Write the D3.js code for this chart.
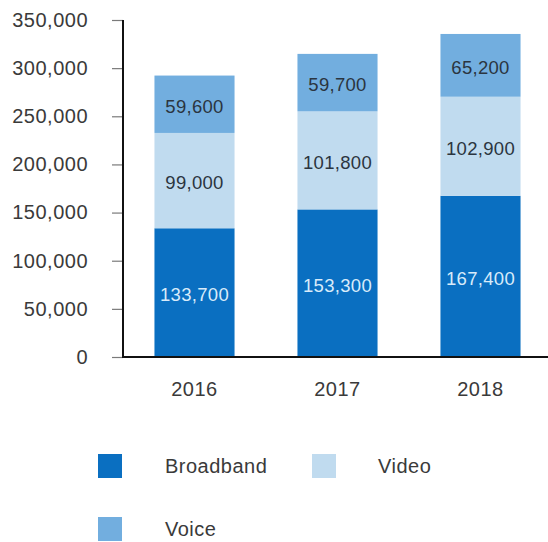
<!DOCTYPE html>
<html>
<head>
<meta charset="utf-8">
<script src="https://cdn.jsdelivr.net/npm/d3@7"></script>
<style>
  html, body { margin: 0; padding: 0; background: #fff; }
  svg { display: block; font-family: "Liberation Sans", Arial, Helvetica, sans-serif; }
</style>
</head>
<body>
<svg id="chart" width="548" height="542"></svg>
<script>
// Subscribers by service, stacked per year
const years = ["2016", "2017", "2018"];
const broadband = [133700, 153300, 167400];
const video = [99000, 101800, 102900];
const voice = [59600, 59700, 65200];
const seriesNames = ["Broadband", "Video", "Voice"];
const seriesColors = ["#0a6fc1", "#c0dbef", "#72aedf"];
const labelColors = ["#d8ebfa", "#2b3540", "#2b3540"];
const yTicks = [0, 50000, 100000, 150000, 200000, 250000, 300000, 350000];

const svg = d3.select("#chart");
const textColor = "#3a3a3a";
const fontSize = 20;
const spacing = "0.5px";

const x = d3.scaleBand().domain(years).range([123, 552])
  .paddingInner(0.44).paddingOuter(0.22);
const y = d3.scaleLinear().domain([0, 350000]).range([357, 20]);

const rows = years.map((yr, i) => ({ year: yr, Broadband: broadband[i], Video: video[i], Voice: voice[i] }));
const stacked = d3.stack().keys(seriesNames)(rows);
const fmt = d3.format(",");

// stacked bars
const layers = svg.append("g").selectAll("g").data(stacked).join("g")
  .attr("fill", (d, i) => seriesColors[i]);
layers.selectAll("rect").data(d => d).join("rect")
  .attr("x", d => x(d.data.year))
  .attr("width", x.bandwidth())
  .attr("y", d => y(d[1]))
  .attr("height", d => y(d[0]) - y(d[1]));

// value labels inside each segment
stacked.forEach((layer, li) => {
  svg.append("g").selectAll("text").data(layer).join("text")
    .attr("x", d => x(d.data.year) + x.bandwidth() / 2)
    .attr("y", d => (y(d[0]) + y(d[1])) / 2 + 2)
    .attr("text-anchor", "middle")
    .attr("dominant-baseline", "central")
    .attr("font-size", 18.5)
    .attr("letter-spacing", "0.3px")
    .attr("fill", labelColors[li])
    .text(d => fmt(d[1] - d[0]));
});

// y axis
const yAxis = svg.append("g").attr("transform", "translate(123,0)")
  .call(d3.axisLeft(y).tickValues(yTicks).tickFormat(fmt).tickSize(11).tickPadding(24));
yAxis.select(".domain").remove();
yAxis.selectAll(".tick line").attr("stroke", "#7a7a7a").attr("stroke-width", 1.2);
yAxis.selectAll(".tick text")
  .attr("font-size", fontSize).attr("letter-spacing", spacing)
  .attr("fill", textColor).attr("font-family", null);

svg.append("line").attr("x1", 123).attr("x2", 123).attr("y1", y(350000)).attr("y2", y(0) + 1)
  .attr("stroke", "#111").attr("stroke-width", 2);

// x axis
const xAxis = svg.append("g").attr("transform", "translate(0,357)")
  .call(d3.axisBottom(x).tickSize(0).tickPadding(25));
xAxis.select(".domain").remove();
xAxis.selectAll(".tick text")
  .attr("font-size", fontSize).attr("letter-spacing", spacing)
  .attr("fill", textColor).attr("font-family", null);
svg.append("line").attr("x1", 122).attr("x2", 548).attr("y1", 357).attr("y2", 357)
  .attr("stroke", "#111").attr("stroke-width", 2);

// legend
const legendPos = [[98, 454], [312, 454], [98, 517]];
const textX = [165, 378, 165];
const legend = svg.append("g").selectAll("g").data(seriesNames).join("g");
legend.append("rect")
  .attr("x", (d, i) => legendPos[i][0]).attr("y", (d, i) => legendPos[i][1])
  .attr("width", 24).attr("height", 24)
  .attr("fill", (d, i) => seriesColors[i]);
legend.append("text")
  .attr("x", (d, i) => textX[i]).attr("y", (d, i) => legendPos[i][1] + 12)
  .attr("dominant-baseline", "central")
  .attr("font-size", fontSize).attr("letter-spacing", spacing)
  .attr("fill", textColor)
  .text(d => d);
</script>
</body>
</html>
